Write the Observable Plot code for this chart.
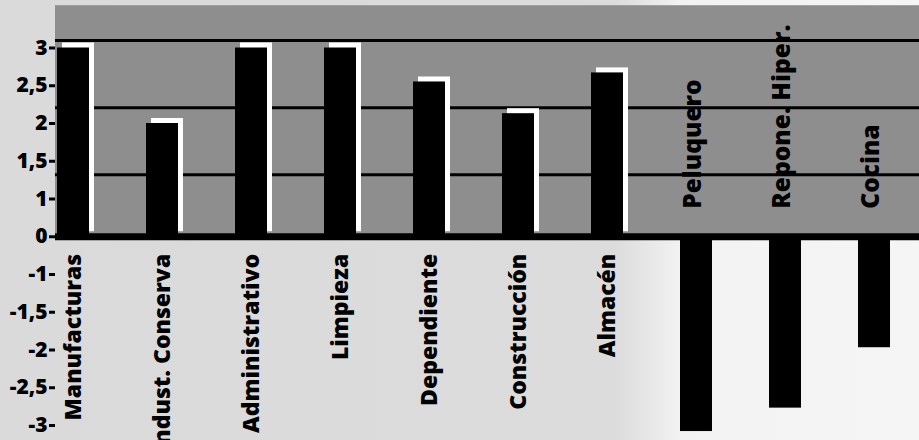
<!DOCTYPE html>
<html><head><meta charset="utf-8">
<script src="https://cdn.jsdelivr.net/npm/d3@7"></script>
<script src="https://cdn.jsdelivr.net/npm/@observablehq/plot@0.6"></script>
<style>
html,body{margin:0;padding:0;}
body{width:919px;height:440px;overflow:hidden;background:linear-gradient(to right,#dadada 0%,#dcdcdc 67%,#f2f2f2 74%,#f5f5f5 100%);}
svg text{font-weight:800;}
</style></head><body><div id="chart"></div>
<script>
// Data
const categories = ["Manufacturas","Indust. Conserva","Administrativo","Limpieza","Dependiente","Construcción","Almacén","Peluquero","Repone. Hiper.","Cocina"];
const values = [3.0, 2.0, 3.0, 3.0, 2.55, 2.13, 2.67, -3.08, -2.77, -1.97];
const yTicks = [3, 2.5, 2, 1.5, 1, 0, -1, -1.5, -2, -2.5, -3];
const gridStripes = [3.1, 2.21, 1.32];
const positiveBandTop = [3.56];

const rows = categories.map((c, i) => ({cat: c, value: values[i]}));
const pos = rows.filter(d => d.value > 0);
const neg = rows.filter(d => d.value < 0);

const W = 919, H = 440;
const domainAsc = yTicks.slice().sort((a, b) => a - b);
const yTop = 47.5, yBottom = 425;
const yRange = domainAsc.map((_, i) => yBottom - i * (yBottom - yTop) / (domainAsc.length - 1));

const font = "'Open Sans', sans-serif";
const chart = Plot.plot({
  width: W, height: H,
  marginLeft: 55, marginRight: 0, marginTop: 5, marginBottom: 0,
  style: {background: "transparent", overflow: "visible", fontFamily: font},
  x: {domain: categories, paddingInner: 0.642, paddingOuter: 0.153, align: 0.05, axis: null},
  y: {type: "linear", domain: domainAsc, range: yRange, label: null},
  marks: [
    Plot.rect(positiveBandTop, {y1: () => 0, y2: d => d, fill: "#8e8e8e"}),
    Plot.ruleY(gridStripes, {stroke: "black", strokeWidth: 3}),
    Plot.barY(pos, {x: "cat", y: "value", fill: "white", dx: 5, dy: -5}),
    Plot.barY(rows, {x: "cat", y: "value", fill: "black"}),
    Plot.ruleY([0], {stroke: "black", strokeWidth: 7}),
    Plot.text(pos, {x: "cat", y: () => 0, text: "cat", rotate: -90, textAnchor: "end", dy: 17, fontSize: 23, fontWeight: 800, fill: "black"}),
    Plot.text(neg, {x: "cat", y: () => 0, text: "cat", rotate: -90, textAnchor: "start", dy: -28, dx: -3, fontSize: 24.5, fontWeight: 800, fill: "black"}),
    Plot.axisY({ticks: yTicks, tickFormat: d => String(d).replace(".", ","), tickSize: 6, tickPadding: 2, strokeWidth: 3, fontSize: 21, fontWeight: 800, fill: "black", label: null})
  ]
});
document.getElementById("chart").appendChild(chart);
</script>
</body></html>
